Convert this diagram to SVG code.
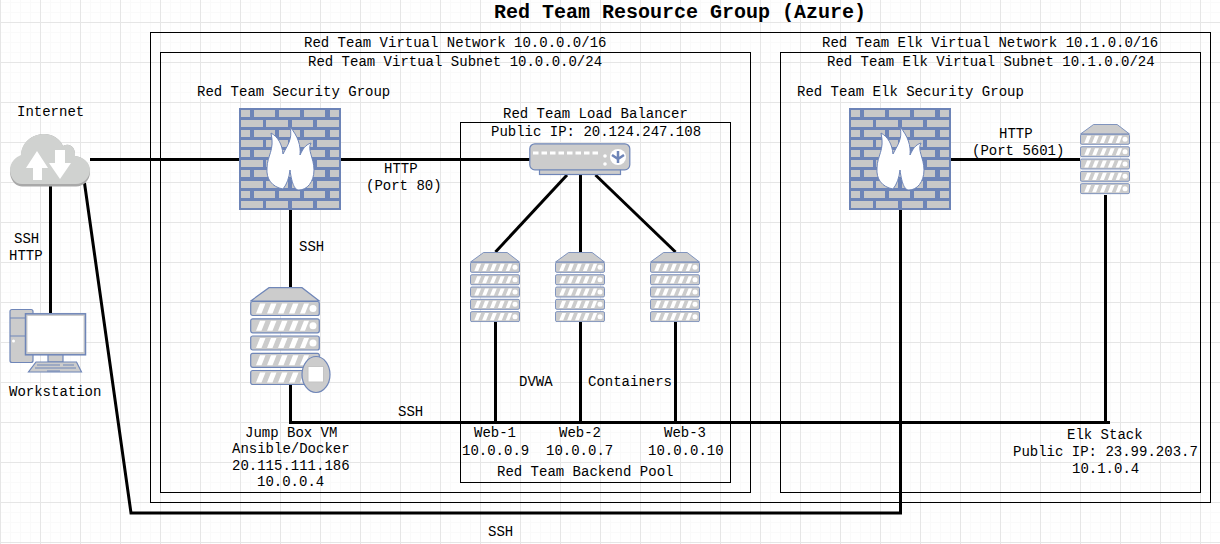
<svg xmlns="http://www.w3.org/2000/svg" xmlns:xlink="http://www.w3.org/1999/xlink" width="1220" height="544" viewBox="0 0 1220 544">
<style>
text{font-family:"Liberation Mono","Courier New",monospace;font-size:14px;fill:#000}
.title{font-size:20px;font-weight:bold}
.box{fill:none;stroke:#000;stroke-width:1}
.conn{fill:none;stroke:#000;stroke-width:3;stroke-linejoin:miter}
.dev{fill:#ccc;stroke:#6f86b8;stroke-width:1.2}
.bl{fill:#6d84b7}
.br{fill:#c8c8c8}
.wh{fill:#fff}
</style>
<defs>
<pattern id="gmin" width="10" height="10" patternUnits="userSpaceOnUse" y="2"><path d="M.5,0V10M0,.5H10" fill="none" stroke="#fafafa" stroke-width="1"/></pattern>
<pattern id="gmaj" width="40" height="40" patternUnits="userSpaceOnUse" y="22"><path d="M.5,0V40M0,.5H40" fill="none" stroke="#e6e6e6" stroke-width="1"/></pattern>
<g id="row1"><rect x="2" width="9" height="7"/><rect x="15" width="21" height="7"/><rect x="40" width="21" height="7"/><rect x="65" width="21" height="7"/><rect x="91" width="9" height="7"/></g>
<g id="row2"><rect x="2" width="22" height="7"/><rect x="27" width="22" height="7"/><rect x="53" width="21" height="7"/><rect x="78" width="22" height="7"/></g>
<symbol id="firewall" viewBox="0 0 102 102" overflow="visible">
<rect class="bl" width="102" height="102"/>
<g class="br">
<use xlink:href="#row1" y="2"/><use xlink:href="#row2" y="12"/><use xlink:href="#row1" y="22"/><use xlink:href="#row2" y="32"/><use xlink:href="#row1" y="42"/><use xlink:href="#row2" y="52"/><use xlink:href="#row1" y="62"/><use xlink:href="#row2" y="73"/><use xlink:href="#row1" y="83"/><use xlink:href="#row2" y="93"/>
</g>
<path d="M44,81C33,79 27,71 28,60C28,48 36,42 32,25C39,29 43,36 44,46C48,38 54,31 51,19C59,28 62,38 61,47C64,41 66,37 72,35C68,42 75,50 75,62C75,74 68,82 60,82C56,82 53,77 51,62C50,70 48,76 44,81Z" fill="#fff" stroke="#6d84b7" stroke-width="1"/>
</symbol>
<g id="srow"><rect class="dev" x=".7" width="68.6" height="14" rx="2"/><path d="M6,12L10,2H15.500L11.500,12ZM17,12L21,2H26.500L22.500,12ZM28,12L32,2H37.500L33.500,12ZM39,12L43,2H48.500L44.500,12ZM50,12L54,2H59L55,12Z" fill="#fff"/><circle cx="63" cy="7" r="3.500" fill="#fff"/></g>
<symbol id="server" viewBox="0 0 70 98">
<path class="dev" d="M19,.7H52L69.300,14H.7Z"/>
<use xlink:href="#srow" y="14.500"/><use xlink:href="#srow" y="31.800"/><use xlink:href="#srow" y="49"/><use xlink:href="#srow" y="66.300"/><use xlink:href="#srow" y="83.500"/>
</symbol>
</defs>
<rect width="1220" height="544" fill="#fff"/>
<rect width="1220" height="544" fill="url(#gmin)"/>
<rect width="1220" height="544" fill="url(#gmaj)"/>

<g id="containers">
<rect class="box" x="150.500" y="32.500" width="1060" height="470"/>
<rect class="box" x="160.500" y="52.500" width="590" height="440"/>
<rect class="box" x="780.500" y="52.500" width="420" height="440"/>
<rect class="box" x="460.500" y="122.500" width="270" height="360"/>
</g>

<g id="connectors" class="conn">
<path class="conn" d="M90,159.500H239"/>
<path class="conn" d="M341,159.500H530"/>
<path class="conn" d="M50.500,186V313"/>
<path class="conn" d="M84.500,183L131,513H900.500V210"/>
<path class="conn" d="M290.500,210V287"/>
<path class="conn" d="M290.500,384V422.500H1110"/>
<path class="conn" d="M1105.500,195V422"/>
<path class="conn" d="M495.500,322V422"/>
<path class="conn" d="M580.500,322V422"/>
<path class="conn" d="M675.500,322V422"/>
<path class="conn" d="M567,175L495.500,252"/>
<path class="conn" d="M580.500,175V252"/>
<path class="conn" d="M595.500,175L675.500,252"/>
<path class="conn" d="M951,159.500H1080"/>
</g>

<g id="internet">
<path d="M22,186.500C14,186.500 10,178 10,172C10,164 16,159 21,157C21,143 32,134 44,134C53,134 60,139 63,146C70,142 76,148 75,156C84,157 90,164 90,172C90,180 84,186.500 76,186.500Z" fill="#a9a9a9"/>
<path d="M22,184C14,184 10,176 10,170C10,162 16,157 21,155C21,143 32,134 44,134C53,134 60,139 63,146C70,142 76,148 75,156C84,157 90,163 90,170C90,177 84,184 76,184Z" fill="#d0d2d0"/>
<path d="M26,168H33V180H42V168H48L37,151Z" class="wh"/>
<path d="M55,150H65V163H71L60,179L49,163H55Z" class="wh"/>
<text x="17" y="116">Internet</text>
</g>

<g id="workstation">
<rect class="dev" x="10" y="309.500" width="23" height="53" rx="2"/>
<path d="M10,318H33M10,336H33" stroke="#6f86b8" fill="none"/>
<circle cx="13.500" cy="341" r="1.500" fill="#fff"/>
<rect class="dev" x="48" y="354" width="15" height="8"/>
<path class="dev" d="M36,362H76.500L81.500,372H28.500Z"/>
<path d="M37,365H60M63,365H74M35,368H76M47,371H60" stroke="#6f86b8" fill="none"/>
<rect x="25.500" y="313.800" width="60" height="41" fill="#ccc" stroke="#6f86b8" stroke-width="1.500"/>
<rect x="27.500" y="316" width="56" height="36" fill="#fff"/>
<text x="9" y="396">Workstation</text>
</g>

<g id="security-group">
<use xlink:href="#firewall" x="239" y="108" width="102" height="102"/>
<text x="197" y="96">Red Team Security Group</text>
</g>

<g id="elk-security-group">
<use xlink:href="#firewall" x="849" y="108" width="102" height="102"/>
<text x="797" y="96">Red Team Elk Security Group</text>
</g>

<g id="load-balancer">
<rect class="dev" x="539.500" y="165" width="81" height="9.500"/>
<rect class="dev" x="529.800" y="143.800" width="100" height="26" rx="5"/>
<path d="M533,153H598" stroke="#fff" stroke-width="3" stroke-dasharray="5.500 3" fill="none"/>
<circle cx="605" cy="156" r="1.800" fill="#fff"/><circle cx="605" cy="164" r="1.800" fill="#fff"/>
<circle cx="618" cy="157" r="8" fill="#fff"/>
<path d="M618,151V163M612,155L618,159L624,155" stroke="#6d84b7" stroke-width="2.500" fill="none"/>
<text x="503" y="118">Red Team Load Balancer</text>
<text x="491" y="136">Public IP: 20.124.247.108</text>
</g>

<g id="jump-box">
<use xlink:href="#server" x="250" y="287" width="70" height="98"/>
<ellipse class="dev" cx="316" cy="374.500" rx="14" ry="18"/>
<rect x="308" y="366.500" width="15.500" height="15.500" fill="#fff" stroke="#c4c4c4" stroke-width="1"/>
<text x="245" y="437">Jump Box VM</text>
<text x="232" y="453">Ansible/Docker</text>
<text x="232" y="470">20.115.111.186</text>
<text x="257" y="486">10.0.0.4</text>
</g>

<g id="web-1">
<use xlink:href="#server" x="470" y="252" width="50" height="70"/>
<text x="474" y="437">Web-1</text>
<text x="462" y="455">10.0.0.9</text>
</g>
<g id="web-2">
<use xlink:href="#server" x="555" y="252" width="50" height="70"/>
<text x="559" y="437">Web-2</text>
<text x="546" y="455">10.0.0.7</text>
</g>
<g id="web-3">
<use xlink:href="#server" x="650" y="252" width="50" height="70"/>
<text x="664" y="437">Web-3</text>
<text x="648" y="455">10.0.0.10</text>
</g>

<g id="elk-stack">
<use xlink:href="#server" x="1080" y="123" width="50" height="72"/>
<text x="1067" y="439">Elk Stack</text>
<text x="1013" y="456">Public IP: 23.99.203.7</text>
<text x="1072" y="473">10.1.0.4</text>
</g>

<g id="labels">
<text class="title" x="494" y="18">Red Team Resource Group (Azure)</text>
<text x="304" y="47">Red Team Virtual Network 10.0.0.0/16</text>
<text x="308" y="66">Red Team Virtual Subnet 10.0.0.0/24</text>
<text x="822" y="47">Red Team Elk Virtual Network 10.1.0.0/16</text>
<text x="827" y="66">Red Team Elk Virtual Subnet 10.1.0.0/24</text>
<text x="384" y="173">HTTP</text>
<text x="366" y="190">(Port 80)</text>
<text x="999" y="138">HTTP</text>
<text x="972" y="155">(Port 5601)</text>
<text x="299" y="251">SSH</text>
<text x="14" y="243">SSH</text>
<text x="9" y="260">HTTP</text>
<text x="519" y="386">DVWA</text>
<text x="588" y="386">Containers</text>
<text x="398" y="416">SSH</text>
<text x="497" y="476">Red Team Backend Pool</text>
<text x="488" y="536">SSH</text>
</g>
</svg>
